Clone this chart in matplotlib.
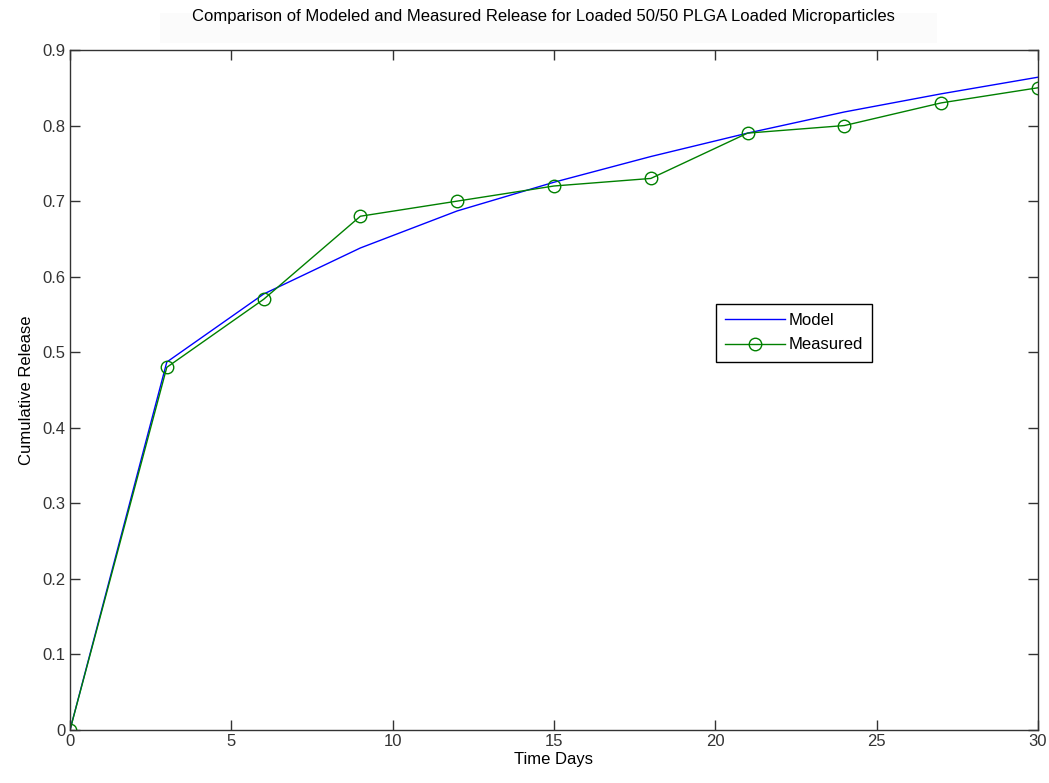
import matplotlib
matplotlib.use("Agg")
import matplotlib.pyplot as plt
import numpy as np

# data
days = [0, 3, 6, 9, 12, 15, 18, 21, 24, 27, 30]
model = [0, 0.487, 0.577, 0.638, 0.687, 0.725, 0.759, 0.790, 0.818, 0.842, 0.864]
measured = [0, 0.48, 0.57, 0.68, 0.70, 0.72, 0.73, 0.79, 0.80, 0.83, 0.85]
xticks = [0, 5, 10, 15, 20, 25, 30]
yticks = [0, 0.1, 0.2, 0.3, 0.4, 0.5, 0.6, 0.7, 0.8, 0.9]

plt.rcParams['font.family'] = ['Liberation Sans Narrow', 'Liberation Sans', 'DejaVu Sans']

fig = plt.figure(figsize=(10.49, 7.83), dpi=100)
ax = fig.add_axes([70/1049, 1 - 730/783, 968/1049, 680/783])

# faint grey band behind the title
fig.patches.append(plt.Rectangle((160/1049, 1 - 43/783), 777/1049, 30/783,
                                 transform=fig.transFigure, facecolor='#fbfbfb',
                                 edgecolor='none', zorder=0))

ax.plot(days, model, color='#0000ff', lw=1, label='Model')
ax.plot(days, measured, color='#008000', lw=1, marker='o', markersize=9,
        markerfacecolor='none', markeredgecolor='#008000', markeredgewidth=1,
        label='Measured')

ax.set_xlim(0, 30)
ax.set_ylim(0, 0.9)
ax.set_xticks(xticks)
ax.set_yticks(yticks)
ax.set_yticklabels(['0', '0.1', '0.2', '0.3', '0.4', '0.5', '0.6', '0.7', '0.8', '0.9'])
ax.tick_params(direction='in', length=7, width=1, top=True, right=True,
               labelsize=12, colors='#333333', pad=3)
for s in ax.spines.values():
    s.set_color('#333333')
    s.set_linewidth(1)

ax.set_xlabel('Time Days', fontsize=12, labelpad=2)
ax.set_ylabel('Cumulative Release', fontsize=12, labelpad=6)
fig.text(543/1049, 1 - 17/783, 'Comparison of Modeled and Measured Release for Loaded 50/50 PLGA Loaded Microparticles',
         ha='center', va='center', fontsize=12)

leg = ax.legend(loc='upper left', bbox_to_anchor=((716 - 70)/968, (730 - 304)/680),
                borderaxespad=0, fontsize=12, fancybox=False, framealpha=1,
                edgecolor='black', borderpad=0.55, handlelength=3.6,
                labelspacing=0.55, handletextpad=0.2)
leg.get_frame().set_linewidth(1)

fig.savefig('out.png', dpi=100)
